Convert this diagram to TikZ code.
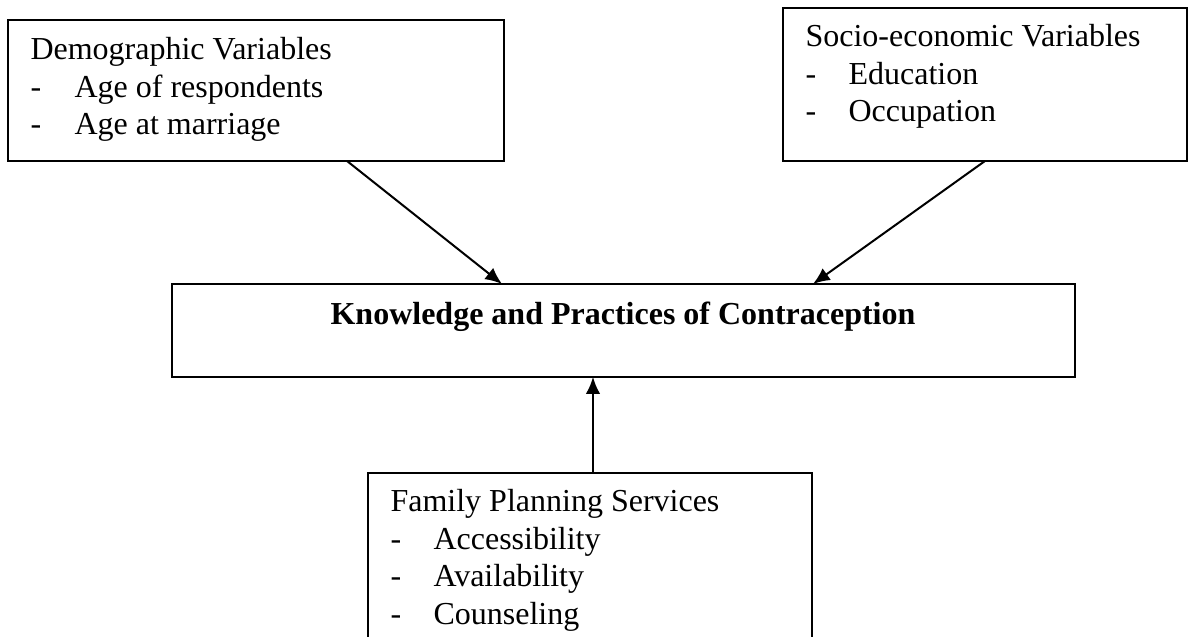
\documentclass[tikz,border=0pt]{standalone}
\usepackage{fontspec}
\setmainfont{Liberation Serif}
\usetikzlibrary{arrows.meta}
\begin{document}
\begin{tikzpicture}[x=0.375pt,y=-0.375pt,
  box/.style={draw,line width=0.75pt,rectangle,inner sep=0pt,outer sep=0pt,anchor=north west},
  txt/.style={anchor=base west,inner sep=0pt,font=\fontsize{12pt}{14pt}\selectfont},
  arr/.style={line width=0.75pt,-{Latex[length=6.3pt,width=5.4pt]}}]
\useasboundingbox (0,0) rectangle (1188,637);
\clip (0,0) rectangle (1188,637);

% boxes
\node[box,minimum width=186pt,minimum height=52.875pt] (demo) at (8,20) {};
\node[box,minimum width=151.5pt,minimum height=57.375pt] (socio) at (783,8) {};
\node[box,minimum width=338.625pt,minimum height=34.875pt] (kp) at (172,284) {};
\node[box,minimum width=166.5pt,minimum height=85.125pt] (fps) at (368,473) {};

% texts
\node[txt] (d0) at ([shift={(22,40)}]demo.north west) {Demographic Variables};
\node[txt] (d1) at ([shift={(22,77.5)}]demo.north west) {-};
\node[txt] (d1t) at ([shift={(66,77.5)}]demo.north west) {Age of respondents};
\node[txt] (d2) at ([shift={(22,115)}]demo.north west) {-};
\node[txt] (d2t) at ([shift={(66,115)}]demo.north west) {Age at marriage};

\node[txt] (s0) at ([shift={(22,39)}]socio.north west) {Socio-economic Variables};
\node[txt] (s1) at ([shift={(22,76.5)}]socio.north west) {-};
\node[txt] (s1t) at ([shift={(65,76.5)}]socio.north west) {Education};
\node[txt] (s2) at ([shift={(22,114)}]socio.north west) {-};
\node[txt] (s2t) at ([shift={(65,114)}]socio.north west) {Occupation};

\node[anchor=base,inner sep=0pt,font=\fontsize{12pt}{14pt}\selectfont\bfseries] (kpt) at ([shift={(451,41)}]kp.north west) {Knowledge and Practices of Contraception};

\node[txt] (f0) at ([shift={(22,39)}]fps.north west) {Family Planning Services};
\node[txt] (f1) at ([shift={(22,76.5)}]fps.north west) {-};
\node[txt] (f1t) at ([shift={(65,76.5)}]fps.north west) {Accessibility};
\node[txt] (f2) at ([shift={(22,114)}]fps.north west) {-};
\node[txt] (f2t) at ([shift={(65,114)}]fps.north west) {Availability};
\node[txt] (f3) at ([shift={(22,151.5)}]fps.north west) {-};
\node[txt] (f3t) at ([shift={(65,151.5)}]fps.north west) {Counseling};

% connectors
\draw[arr] ([shift={(339,0)}]demo.south west) -- ([shift={(330,0)}]kp.north west);
\draw[arr] ([shift={(202,0)}]socio.south west) -- ([shift={(641,0)}]kp.north west);
\draw[arr] ([shift={(225,0)}]fps.north west) -- ([shift={(421,0)}]kp.south west);
\end{tikzpicture}
\end{document}
